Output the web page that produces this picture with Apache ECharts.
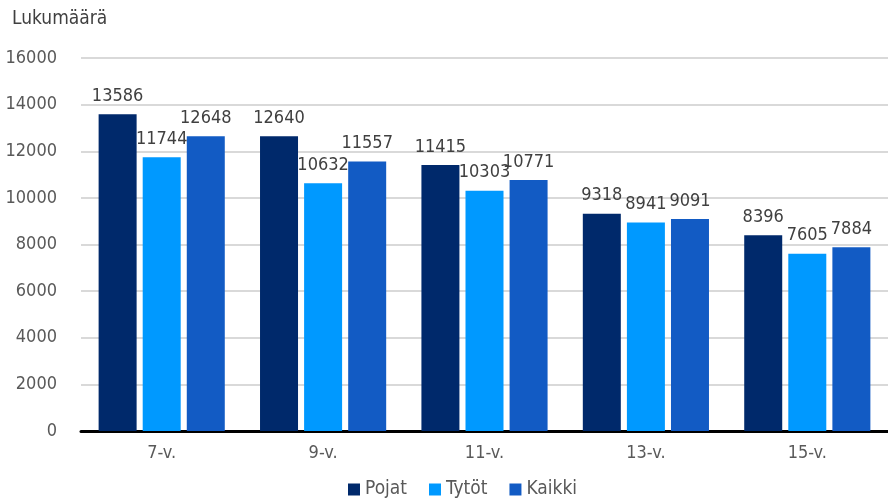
<!DOCTYPE html>
<html>
<head>
<meta charset="utf-8">
<script src="https://cdn.jsdelivr.net/npm/echarts@6/dist/echarts.min.js"></script>
<style>
  html, body { margin: 0; padding: 0; background: #fff; }
  #chart { width: 888px; height: 502px; }
</style>
</head>
<body>
<div id="chart"></div>
<script>
const categories = ['7-v.', '9-v.', '11-v.', '13-v.', '15-v.'];
const pojat = [13586, 12640, 11415, 9318, 8396];
const tytot = [11744, 10632, 10303, 8941, 7605];
const kaikki = [12648, 11557, 10771, 9091, 7884];

const font = '"DejaVu Sans Condensed", "Liberation Sans Narrow", sans-serif';
const colors = ['#00296b', '#0099ff', '#125bc4'];

const myChart = echarts.init(document.getElementById('chart'));

function barSeries(name, data, color) {
  return {
    name: name,
    type: 'bar',
    barWidth: 38,
    barGap: '16%',
    itemStyle: { color: color },
    label: {
      show: true,
      position: 'top',
      distance: 9,
      color: '#404040',
      fontSize: 18,
      fontFamily: font
    },
    data: data
  };
}

const option = {
  animation: false,
  color: colors,
  textStyle: { fontFamily: font },
  legend: {
    bottom: -2,
    left: 343,
    itemWidth: 12,
    itemHeight: 12,
    itemGap: 22,
    icon: 'rect',
    textStyle: { color: '#595959', fontSize: 19, fontFamily: font },
    data: ['Pojat', 'Tytöt', 'Kaikki']
  },
  grid: {
    left: 81,
    right: 0,
    top: 58,
    bottom: 71
  },
  xAxis: {
    type: 'category',
    data: categories,
    axisTick: { show: false },
    axisLine: { lineStyle: { color: '#000', width: 3 } },
    axisLabel: { color: '#595959', fontSize: 18, fontFamily: font, margin: 13 }
  },
  yAxis: {
    type: 'value',
    min: 0,
    max: 16000,
    interval: 2000,
    name: 'Lukumäärä',
    nameLocation: 'end',
    nameGap: 29,
    nameTextStyle: { color: '#404040', fontSize: 19, fontFamily: font, align: 'left', padding: [0, 0, 0, -69] },
    axisLine: { show: false },
    axisTick: { show: false },
    axisLabel: {
      color: '#595959',
      fontSize: 18,
      fontFamily: font,
      margin: 24,
      formatter: function(v) { return String(v); }
    },
    splitLine: { lineStyle: { color: '#d9d9d9', width: 2 } }
  },
  series: [
    barSeries('Pojat', pojat, colors[0]),
    barSeries('Tytöt', tytot, colors[1]),
    barSeries('Kaikki', kaikki, colors[2])
  ]
};

myChart.setOption(option);
</script>
</body>
</html>
